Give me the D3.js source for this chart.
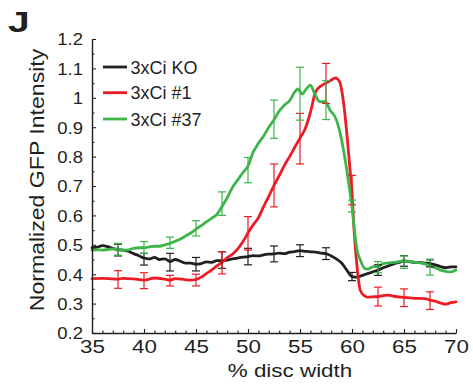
<!DOCTYPE html>
<html><head><meta charset="utf-8">
<script src="https://cdn.jsdelivr.net/npm/d3@7"></script>
<style>
html,body{margin:0;padding:0;background:#fff;}
text{font-family:"Liberation Sans",Arial,Helvetica,sans-serif;fill:#231f20;}
</style></head>
<body><svg id="chart" width="473" height="386"></svg>
<script>
// ---- data ----
const seriesNames = ["3xCi KO", "3xCi #1", "3xCi #37"];
const seriesColors = ["#231f20", "#ed1c24", "#3db54a"];

const koX = [35,35.5,36,36.5,37,37.5,38,38.5,39,39.5,40,40.5,41,41.5,42,42.5,43,43.5,44,44.5,45,45.5,46,46.5,47,47.5,48,48.5,49,49.5,50,50.5,51,51.5,52,52.5,53,53.5,54,54.5,55,55.5,56,56.5,57,57.5,58,58.5,59,59.5,60,60.5,61,61.5,62,62.5,63,63.5,64,64.5,65,65.5,66,66.5,67,67.5,68,68.5,69,69.5,70];
const koY = [0.490,0.492,0.497,0.494,0.488,0.484,0.482,0.478,0.470,0.463,0.455,0.452,0.457,0.450,0.452,0.443,0.450,0.444,0.438,0.438,0.434,0.436,0.442,0.440,0.446,0.446,0.448,0.452,0.455,0.458,0.460,0.463,0.462,0.466,0.468,0.469,0.472,0.470,0.475,0.477,0.480,0.478,0.476,0.475,0.472,0.470,0.462,0.452,0.438,0.414,0.392,0.390,0.396,0.402,0.408,0.414,0.422,0.428,0.435,0.440,0.445,0.443,0.440,0.440,0.438,0.436,0.432,0.426,0.422,0.425,0.425];

const c1X = [35,36,37,37.5,38,39,40,41,42,42.5,43,44,44.5,45,45.5,46,46.5,47,47.5,48,48.5,49,49.5,50,50.5,51,51.5,52,52.5,53,53.5,54,54.5,55,55.5,56,56.5,57,57.5,58,58.4,58.8,59.2,59.5,59.8,60,60.2,60.5,60.8,61.2,61.5,62,62.5,63,63.5,64,65,66,67,67.5,68,68.5,69,69.5,70];
const c1Y = [0.385,0.386,0.384,0.383,0.386,0.384,0.380,0.387,0.383,0.380,0.385,0.381,0.380,0.382,0.390,0.402,0.414,0.428,0.441,0.456,0.468,0.485,0.510,0.540,0.568,0.592,0.630,0.665,0.702,0.735,0.770,0.800,0.832,0.863,0.895,0.950,1.020,1.040,1.050,1.060,1.068,1.055,0.980,0.880,0.760,0.680,0.550,0.420,0.345,0.326,0.322,0.323,0.324,0.327,0.329,0.325,0.321,0.318,0.317,0.312,0.308,0.302,0.298,0.303,0.306];

const c37X = [35,35.5,36,36.5,37,37.5,38,38.5,39,39.5,40,40.5,41,41.5,42,42.5,43,43.5,44,44.5,45,45.5,46,46.5,47,47.5,48,48.5,49,49.5,50,50.5,51,51.5,52,52.5,53,53.5,54,54.5,54.8,55.2,55.6,56,56.4,56.9,57.4,57.9,58.5,59,59.5,59.8,60,60.2,60.5,60.8,61.2,61.5,62,62.5,63,63.5,64,65,66,67,67.5,68,68.5,69,69.5,70];
const c37Y = [0.482,0.483,0.482,0.484,0.486,0.485,0.482,0.483,0.488,0.490,0.490,0.493,0.495,0.495,0.500,0.505,0.512,0.520,0.530,0.540,0.553,0.565,0.578,0.590,0.603,0.630,0.660,0.695,0.720,0.745,0.768,0.815,0.845,0.870,0.900,0.925,0.955,0.975,0.990,1.020,1.030,1.013,1.030,1.043,1.015,0.987,0.987,0.958,0.925,0.857,0.754,0.680,0.632,0.560,0.480,0.448,0.420,0.417,0.425,0.426,0.436,0.438,0.440,0.445,0.441,0.435,0.428,0.422,0.414,0.410,0.408,0.414];

const errX = [37.5,40,42.5,45,47.5,50,52.5,55,57.5,60,62.5,65,67.5];
const koErrMean = [0.482,0.451,0.441,0.434,0.448,0.460,0.469,0.480,0.470,0.392,0.414,0.445,0.437];
const koErrHalf = [0.020,0.020,0.030,0.023,0.028,0.028,0.027,0.020,0.020,0.014,0.018,0.018,0.012];
const c1ErrMean = [0.382,0.378,0.378,0.380,0.439,0.539,0.702,0.861,1.049,0.686,0.324,0.320,0.310];
const c1ErrHalf = [0.030,0.027,0.018,0.020,0.038,0.057,0.073,0.086,0.068,0.050,0.032,0.030,0.030];
const c37ErrMean = [0.485,0.491,0.507,0.556,0.640,0.754,0.927,1.014,0.992,0.632,0.424,0.441,0.424];
const c37ErrHalf = [0.020,0.020,0.019,0.026,0.040,0.043,0.065,0.090,0.066,0.020,0.019,0.021,0.027];

const xTicks = [35,40,45,50,55,60,65,70];
const yTicks = [0.2,0.3,0.4,0.5,0.6,0.7,0.8,0.9,1,1.1,1.2];
const xTitle = "% disc width";
const yTitle = "Normalized GFP Intensity";
const panelLabel = "J";

// ---- chart ----
const svg = d3.select("#chart");
const x = d3.scaleLinear().domain([35,70]).range([92,456]);
const y = d3.scaleLinear().domain([0.2,1.2]).range([333,39]);
const ink = "#231f20";

// curves
const series = [
  {x:koX, y:koY, em:koErrMean, eh:koErrHalf},
  {x:c1X, y:c1Y, em:c1ErrMean, eh:c1ErrHalf},
  {x:c37X, y:c37Y, em:c37ErrMean, eh:c37ErrHalf}
];
const line = d3.line().x(d=>x(d[0])).y(d=>y(d[1])).curve(d3.curveMonotoneX);

series.forEach((s,i)=>{
  const pts = s.x.map((v,j)=>[v,s.y[j]]);
  svg.append("path").attr("d", line(pts)).attr("fill","none")
    .attr("stroke", seriesColors[i]).attr("stroke-width",2.8)
    .attr("stroke-linejoin","round").attr("stroke-linecap","round");
});
series.forEach((s,i)=>{
  const g = svg.append("g").attr("stroke", seriesColors[i]).attr("stroke-width",1.2).attr("fill","none");
  errX.forEach((xv,j)=>{
    const lo = y(s.em[j]-s.eh[j]), hi = y(s.em[j]+s.eh[j]), cx = x(xv);
    g.append("line").attr("x1",cx).attr("x2",cx).attr("y1",lo).attr("y2",hi);
    g.append("line").attr("x1",cx-4).attr("x2",cx+4).attr("y1",lo).attr("y2",lo);
    g.append("line").attr("x1",cx-4).attr("x2",cx+4).attr("y1",hi).attr("y2",hi);
  });
});

// axes
const yAxisG = svg.append("g").attr("transform","translate(92,0)")
  .call(d3.axisLeft(y).tickValues(yTicks).tickSize(-4).tickSizeOuter(0).tickPadding(8)
    .tickFormat(d=>d3.format("~g")(d)));
svg.append("g").attr("transform","translate(92,0)")
  .call(d3.axisLeft(y).tickValues(d3.range(0.25,1.2,0.1)).tickSize(-2.5).tickSizeOuter(0).tickFormat(""))
  .select(".domain").remove();
const xAxisG = svg.append("g").attr("transform","translate(0,333)")
  .call(d3.axisBottom(x).tickValues(xTicks).tickSize(-4).tickSizeOuter(0).tickPadding(8));
svg.append("g").attr("transform","translate(0,333)")
  .call(d3.axisBottom(x).tickValues(d3.range(36,70,1).filter(v=>v%5!==0)).tickSize(-2.5).tickSizeOuter(0).tickFormat(""))
  .select(".domain").remove();

svg.selectAll(".domain").attr("stroke",ink).attr("stroke-width",1.4);
svg.selectAll(".tick line").attr("stroke",ink).attr("stroke-width",1.1);

yAxisG.selectAll(".tick text")
  .attr("x",0).attr("dy","0.36em")
  .attr("transform","translate(-9,0) scale(1.12,1)")
  .style("font-size","16.5px").style("fill",ink).style("font-family","'Liberation Sans',Arial,sans-serif");
xAxisG.selectAll(".tick text")
  .attr("y",0).attr("dy","0")
  .attr("transform","translate(0,20) scale(1.28,1)")
  .style("font-size","17.5px").style("fill",ink).style("font-family","'Liberation Sans',Arial,sans-serif");

// titles
svg.append("text").attr("transform","translate(290,377) scale(1.18,1)")
  .attr("text-anchor","middle").style("font-size","19px").text(xTitle);
svg.append("text").attr("transform","translate(44,180) rotate(-90) scale(1.1,1)")
  .attr("text-anchor","middle").style("font-size","21px").text(yTitle);
svg.append("text").attr("transform","translate(8,32) scale(1.3,1)")
  .style("font-size","30px").style("font-weight","bold").text(panelLabel);

// legend
const legY = [67,92.7,119];
seriesNames.forEach((n,i)=>{
  svg.append("line").attr("x1",103).attr("x2",127).attr("y1",legY[i]).attr("y2",legY[i])
    .attr("stroke",seriesColors[i]).attr("stroke-width",2.8);
  svg.append("text").attr("x",130.5).attr("y",legY[i]+6.6).style("font-size","18px").text(n);
});
</script></body></html>
